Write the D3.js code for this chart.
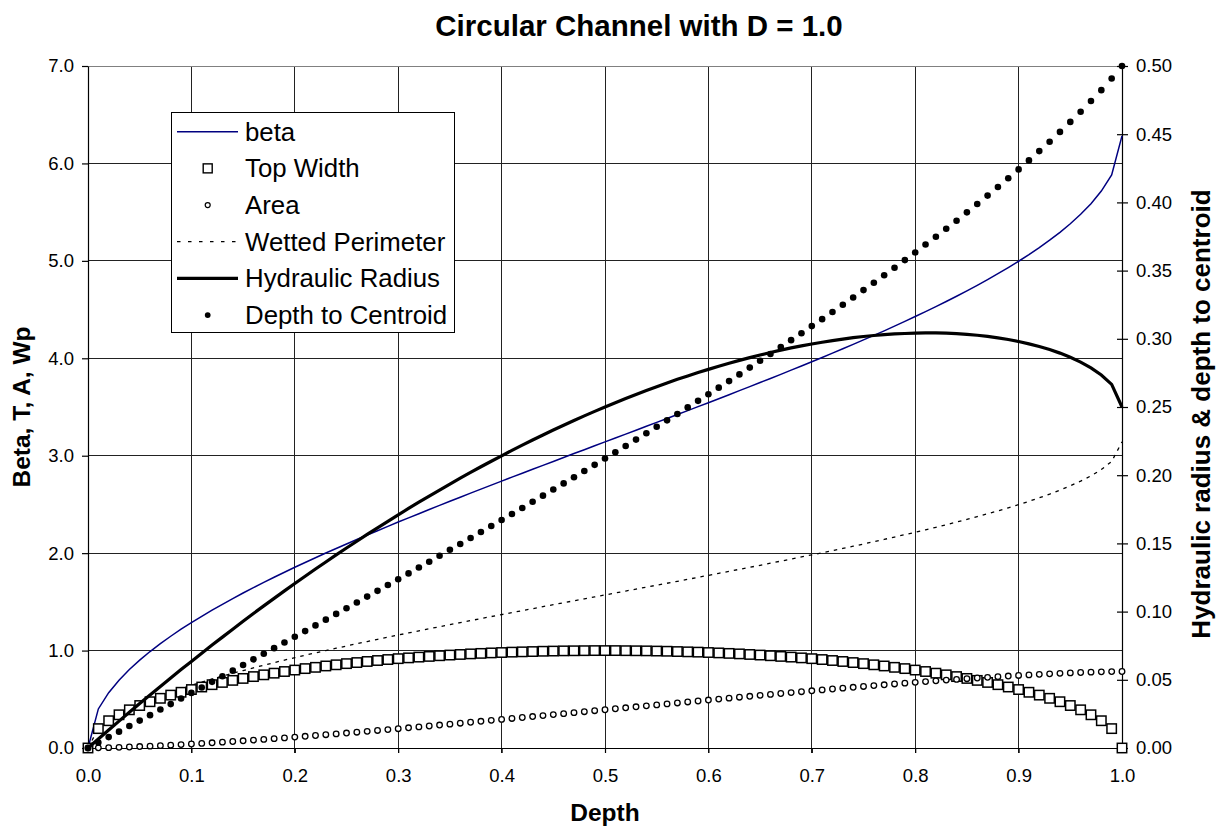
<!DOCTYPE html>
<html><head><meta charset="utf-8">
<script src="https://cdn.jsdelivr.net/npm/d3@7"></script>
<style>
body{margin:0;background:#fff}
svg{display:block}
text{font-family:Arial,'Liberation Sans',sans-serif;fill:#000}
</style>
</head><body>
<svg id="c" width="1217" height="829"></svg>
<script>
// ---------- data ----------
const depth=[0,0.01,0.02,0.03,0.04,0.05,0.06,0.07,0.08,0.09,
0.10,0.11,0.12,0.13,0.14,0.15,0.16,0.17,0.18,0.19,
0.20,0.21,0.22,0.23,0.24,0.25,0.26,0.27,0.28,0.29,
0.30,0.31,0.32,0.33,0.34,0.35,0.36,0.37,0.38,0.39,
0.40,0.41,0.42,0.43,0.44,0.45,0.46,0.47,0.48,0.49,
0.50,0.51,0.52,0.53,0.54,0.55,0.56,0.57,0.58,0.59,
0.60,0.61,0.62,0.63,0.64,0.65,0.66,0.67,0.68,0.69,
0.70,0.71,0.72,0.73,0.74,0.75,0.76,0.77,0.78,0.79,
0.80,0.81,0.82,0.83,0.84,0.85,0.86,0.87,0.88,0.89,
0.90,0.91,0.92,0.93,0.94,0.95,0.96,0.97,0.98,0.99,
1.00];
const beta=[0,0.401,0.568,0.696,0.805,0.902,0.990,1.071,1.147,1.219,
1.287,1.352,1.415,1.475,1.534,1.591,1.646,1.700,1.753,1.804,
1.855,1.904,1.953,2.001,2.048,2.094,2.140,2.186,2.230,2.275,
2.319,2.362,2.405,2.448,2.490,2.532,2.574,2.616,2.657,2.698,
2.739,2.780,2.820,2.861,2.901,2.941,2.981,3.022,3.062,3.102,
3.142,3.182,3.222,3.262,3.302,3.342,3.382,3.423,3.463,3.504,
3.544,3.585,3.626,3.668,3.709,3.751,3.793,3.835,3.878,3.921,
3.965,4.008,4.053,4.098,4.143,4.189,4.235,4.282,4.330,4.379,
4.429,4.479,4.531,4.583,4.637,4.692,4.749,4.808,4.868,4.931,
4.996,5.064,5.136,5.212,5.293,5.381,5.478,5.587,5.716,5.883,
6.283];
const topWidth=[0,0.199,0.280,0.341,0.392,0.436,0.475,0.510,0.543,0.572,
0.600,0.626,0.650,0.673,0.694,0.714,0.733,0.751,0.768,0.785,
0.800,0.815,0.828,0.842,0.854,0.866,0.877,0.888,0.898,0.908,
0.917,0.925,0.933,0.940,0.947,0.954,0.960,0.966,0.971,0.976,
0.980,0.984,0.987,0.990,0.993,0.995,0.997,0.998,0.999,1.000,
1.000,1.000,0.999,0.998,0.997,0.995,0.993,0.990,0.987,0.984,
0.980,0.976,0.971,0.966,0.960,0.954,0.947,0.940,0.933,0.925,
0.917,0.908,0.898,0.888,0.877,0.866,0.854,0.842,0.828,0.815,
0.800,0.785,0.768,0.751,0.733,0.714,0.694,0.673,0.650,0.626,
0.600,0.572,0.543,0.510,0.475,0.436,0.392,0.341,0.280,0.199,
0];
const area=[0,0.0013,0.0037,0.0069,0.0105,0.0147,0.0192,0.0242,0.0294,0.0350,
0.0409,0.0470,0.0534,0.0600,0.0668,0.0739,0.0811,0.0885,0.0961,0.1039,
0.1118,0.1199,0.1281,0.1365,0.1449,0.1535,0.1623,0.1711,0.1800,0.1890,
0.1982,0.2074,0.2167,0.2260,0.2355,0.2450,0.2546,0.2642,0.2739,0.2836,
0.2934,0.3032,0.3130,0.3229,0.3328,0.3428,0.3527,0.3627,0.3727,0.3827,
0.3927,0.4027,0.4127,0.4227,0.4327,0.4426,0.4526,0.4625,0.4724,0.4822,
0.4920,0.5018,0.5115,0.5212,0.5308,0.5404,0.5499,0.5594,0.5687,0.5780,
0.5872,0.5964,0.6054,0.6143,0.6231,0.6319,0.6405,0.6489,0.6573,0.6655,
0.6736,0.6815,0.6893,0.6969,0.7043,0.7115,0.7186,0.7254,0.7320,0.7384,
0.7445,0.7504,0.7560,0.7612,0.7662,0.7707,0.7749,0.7785,0.7816,0.7841,
0.7854];
const wettedPerimeter=[0,0.200,0.284,0.348,0.403,0.451,0.495,0.536,0.574,0.609,
0.644,0.676,0.707,0.738,0.767,0.795,0.823,0.850,0.876,0.902,
0.927,0.952,0.976,1.000,1.024,1.047,1.070,1.093,1.115,1.137,
1.159,1.181,1.203,1.224,1.245,1.266,1.287,1.308,1.328,1.349,
1.369,1.390,1.410,1.430,1.451,1.471,1.491,1.511,1.531,1.551,
1.571,1.591,1.611,1.631,1.651,1.671,1.691,1.711,1.731,1.752,
1.772,1.793,1.813,1.834,1.855,1.875,1.897,1.918,1.939,1.961,
1.982,2.004,2.026,2.049,2.071,2.094,2.118,2.141,2.165,2.190,
2.214,2.240,2.265,2.292,2.319,2.346,2.375,2.404,2.434,2.465,
2.498,2.532,2.568,2.606,2.647,2.691,2.739,2.793,2.858,2.941,
3.142];
const hydraulicRadius=[0,0.0066,0.0132,0.0197,0.0262,0.0326,0.0389,0.0451,0.0513,0.0575,
0.0635,0.0695,0.0755,0.0813,0.0871,0.0929,0.0986,0.1042,0.1097,0.1152,
0.1206,0.1259,0.1312,0.1364,0.1416,0.1466,0.1516,0.1566,0.1614,0.1662,
0.1709,0.1756,0.1802,0.1847,0.1891,0.1935,0.1978,0.2020,0.2062,0.2102,
0.2142,0.2182,0.2220,0.2258,0.2295,0.2331,0.2366,0.2401,0.2435,0.2468,
0.2500,0.2531,0.2562,0.2592,0.2621,0.2649,0.2676,0.2703,0.2728,0.2753,
0.2776,0.2799,0.2821,0.2842,0.2862,0.2881,0.2900,0.2917,0.2933,0.2948,
0.2962,0.2975,0.2987,0.2998,0.3008,0.3017,0.3024,0.3031,0.3036,0.3039,
0.3042,0.3043,0.3043,0.3041,0.3038,0.3033,0.3026,0.3018,0.3007,0.2995,
0.2980,0.2963,0.2944,0.2921,0.2895,0.2865,0.2829,0.2787,0.2735,0.2666,
0.2500];
const depthToCentroid=[0,0.0040,0.0080,0.0120,0.0161,0.0201,0.0241,0.0282,0.0322,0.0363,
0.0404,0.0444,0.0485,0.0526,0.0567,0.0608,0.0650,0.0691,0.0732,0.0774,
0.0816,0.0857,0.0899,0.0941,0.0983,0.1025,0.1067,0.1110,0.1152,0.1195,
0.1237,0.1280,0.1323,0.1366,0.1410,0.1453,0.1496,0.1540,0.1584,0.1628,
0.1672,0.1716,0.1760,0.1805,0.1850,0.1895,0.1940,0.1985,0.2031,0.2076,
0.2122,0.2168,0.2214,0.2261,0.2308,0.2355,0.2402,0.2449,0.2497,0.2545,
0.2593,0.2642,0.2690,0.2739,0.2789,0.2839,0.2889,0.2939,0.2990,0.3041,
0.3093,0.3144,0.3197,0.3250,0.3303,0.3357,0.3411,0.3466,0.3521,0.3577,
0.3633,0.3691,0.3748,0.3807,0.3866,0.3927,0.3988,0.4050,0.4113,0.4177,
0.4242,0.4308,0.4376,0.4445,0.4517,0.4590,0.4665,0.4743,0.4823,0.4908,
0.5000];
const xTicks=[0,0.1,0.2,0.3,0.4,0.5,0.6,0.7,0.8,0.9,1.0];
const leftTicks=[0,1,2,3,4,5,6,7];
const rightTicks=[0,0.05,0.10,0.15,0.20,0.25,0.30,0.35,0.40,0.45,0.50];
const legendLabels=["beta","Top Width","Area","Wetted Perimeter","Hydraulic Radius","Depth to Centroid"];

// ---------- layout ----------
const svg=d3.select('#c');
const P={l:88,r:1122,t:66,b:748};
const x=d3.scaleLinear().domain([0,1]).range([P.l,P.r]);
const yL=d3.scaleLinear().domain([0,7]).range([P.b,P.t]);
const yR=d3.scaleLinear().domain([0,0.5]).range([P.b,P.t]);
const gridColor="#222";

// gridlines
const grid=svg.append('g');
grid.selectAll('line.v').data(xTicks.slice(1,-1)).join('line')
  .attr('x1',d=>x(d)).attr('x2',d=>x(d)).attr('y1',P.t).attr('y2',P.b+5)
  .attr('stroke',gridColor).attr('stroke-width',1).attr('shape-rendering','crispEdges');
grid.selectAll('line.h').data(leftTicks.slice(1)).join('line')
  .attr('x1',P.l).attr('x2',P.r).attr('y1',d=>yL(d)).attr('y2',d=>yL(d))
  .attr('stroke',d=>d===7?'#808080':gridColor).attr('stroke-width',1).attr('shape-rendering','crispEdges');

// axes
const fs='18.5px';
const axL=svg.append('g').attr('transform',`translate(${P.l},0)`)
  .call(d3.axisLeft(yL).tickValues(leftTicks).tickFormat(d3.format('.1f')).tickSize(6).tickSizeOuter(0).tickPadding(8));
const axR=svg.append('g').attr('transform',`translate(${P.r},0)`)
  .call(d3.axisRight(yR).tickValues(rightTicks).tickFormat(d3.format('.2f')).tickSize(6).tickSizeOuter(0).tickPadding(8));
axR.selectAll('.tick line').attr('x1',-5);
const axB=svg.append('g').attr('transform',`translate(0,${P.b})`)
  .call(d3.axisBottom(x).tickValues(xTicks).tickFormat(d3.format('.1f')).tickSize(5).tickSizeOuter(0).tickPadding(16));
[axL,axR,axB].forEach(a=>{
  a.selectAll('text').style('font-size',fs).attr('font-family','Arial, Liberation Sans, sans-serif').attr('fill','#000');
  a.selectAll('line,path').attr('stroke','#000').attr('stroke-width',1.2);
});

// series
const pts=depth.map((d,i)=>i);
const lineL=(arr)=>d3.line().x(i=>x(depth[i])).y(i=>yL(arr[i]));
const lineR=(arr)=>d3.line().x(i=>x(depth[i])).y(i=>yR(arr[i]));
const series=svg.append('g');
const sq=9.4;

series.append('path').attr('d',lineL(beta)(pts)).attr('fill','none').attr('stroke','#000080').attr('stroke-width',1.5);
series.append('path').attr('d',lineL(wettedPerimeter)(pts)).attr('fill','none').attr('stroke','#000').attr('stroke-width',1.3).attr('stroke-dasharray','3.5,5');
series.selectAll('rect.tw').data(pts).join('rect')
  .attr('x',i=>x(depth[i])-sq/2).attr('y',i=>yL(topWidth[i])-sq/2).attr('width',sq).attr('height',sq)
  .attr('fill','#fff').attr('stroke','#000').attr('stroke-width',1.5);
series.selectAll('circle.ar').data(pts).join('circle')
  .attr('cx',i=>x(depth[i])).attr('cy',i=>yL(area[i])).attr('r',2.8)
  .attr('fill','#fff').attr('stroke','#000').attr('stroke-width',1.3);
series.append('path').attr('d',lineR(hydraulicRadius)(pts)).attr('fill','none').attr('stroke','#000').attr('stroke-width',3.2);
series.selectAll('circle.dc').data(pts).join('circle')
  .attr('cx',i=>x(depth[i])).attr('cy',i=>yR(depthToCentroid[i])).attr('r',3.3)
  .attr('fill','#000');

// legend
const lg=svg.append('g');
lg.append('rect').attr('x',171.5).attr('y',112.5).attr('width',283).attr('height',220)
  .attr('fill','#fff').attr('stroke','#000').attr('stroke-width',1);
const ly=i=>131.7+i*36.67;
legendLabels.forEach((t,i)=>{
  lg.append('text').attr('x',245).attr('y',ly(i)).attr('dy','0.35em').style('font-size','25.8px').text(t);
});
lg.append('line').attr('x1',177).attr('x2',238).attr('y1',ly(0)).attr('y2',ly(0)).attr('stroke','#000080').attr('stroke-width',1.5);
lg.append('rect').attr('x',207.7-4.5).attr('y',ly(1)-4.5).attr('width',9).attr('height',9).attr('fill','#fff').attr('stroke','#000').attr('stroke-width',1.4);
lg.append('circle').attr('cx',207.7).attr('cy',ly(2)).attr('r',2.5).attr('fill','#fff').attr('stroke','#000').attr('stroke-width',1.2);
lg.append('line').attr('x1',177).attr('x2',238).attr('y1',ly(3)).attr('y2',ly(3)).attr('stroke','#000').attr('stroke-width',1.3).attr('stroke-dasharray','3.5,7.5');
lg.append('line').attr('x1',177).attr('x2',238).attr('y1',ly(4)).attr('y2',ly(4)).attr('stroke','#000').attr('stroke-width',3.2);
lg.append('circle').attr('cx',207.7).attr('cy',ly(5)).attr('r',2.9).attr('fill','#000');

// titles
svg.append('text').attr('x',639).attr('y',36).attr('text-anchor','middle')
  .style('font-size','29.5px').style('font-weight','bold').text('Circular Channel with D = 1.0');
svg.append('text').attr('x',605).attr('y',821).attr('text-anchor','middle')
  .style('font-size','24.5px').style('font-weight','bold').text('Depth');
svg.append('text').attr('transform','translate(30,407) rotate(-90)').attr('text-anchor','middle')
  .style('font-size','24.5px').style('font-weight','bold').text('Beta, T, A, Wp');
svg.append('text').attr('transform','translate(1210,414) rotate(-90)').attr('text-anchor','middle')
  .style('font-size','26px').style('font-weight','bold').text('Hydraulic radius & depth to centroid');
</script>
</body></html>
